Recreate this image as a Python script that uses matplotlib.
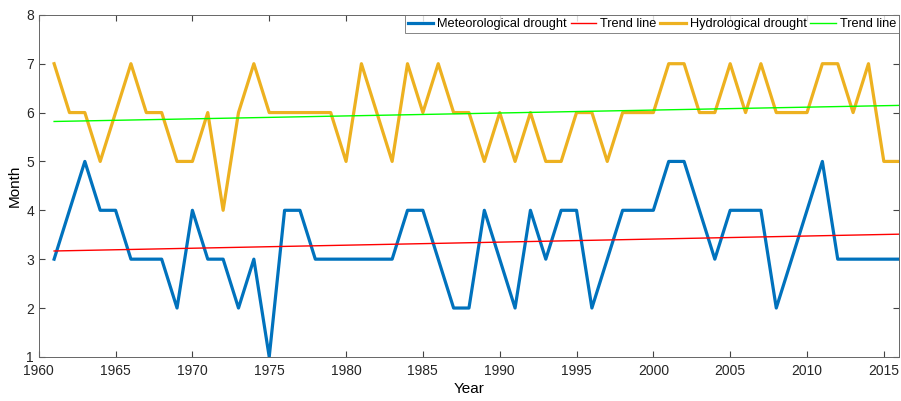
import matplotlib.pyplot as plt
import numpy as np

plt.rcParams["font.family"] = ["Liberation Sans", "DejaVu Sans"]

years = np.arange(1961, 2017)

# Meteorological drought duration (months)
meteorological = [3, 4, 5, 4, 4, 3, 3, 3, 2, 4,
                  3, 3, 2, 3, 1, 4, 4, 3, 3, 3,
                  3, 3, 3, 4, 4, 3, 2, 2, 4, 3,
                  2, 4, 3, 4, 4, 2, 3, 4, 4, 4,
                  5, 5, 4, 3, 4, 4, 4, 2, 3, 4,
                  5, 3, 3, 3, 3, 3]

# Hydrological drought duration (months)
hydrological = [7, 6, 6, 5, 6, 7, 6, 6, 5, 5,
                6, 4, 6, 7, 6, 6, 6, 6, 6, 5,
                7, 6, 5, 7, 6, 7, 6, 6, 5, 6,
                5, 6, 5, 5, 6, 6, 5, 6, 6, 6,
                7, 7, 6, 6, 7, 6, 7, 6, 6, 6,
                7, 7, 6, 7, 5, 5]

x_ticks = np.arange(1960, 2016, 5)


def trend(x, y):
    """Least-squares linear trend evaluated over x."""
    slope, intercept = np.polyfit(x, y, 1)
    return slope * x + intercept


fig = plt.figure(figsize=(9.01, 4.01), dpi=100)
ax = fig.add_axes([0.043, 0.110, 0.955, 0.853])

ax.plot(years, meteorological, color="#0072BD", lw=2.3, label="Meteorological drought")
ax.plot(years, trend(years, meteorological), color="#FF0000", lw=1.0, label="Trend line")
ax.plot(years, hydrological, color="#EDB120", lw=2.3, label="Hydrological drought")
ax.plot(years, trend(years, hydrological), color="#00FF00", lw=1.0, label="Trend line")

ax.set_xlim(1960, 2016)
ax.set_ylim(1, 8)
ax.set_xticks(x_ticks)
ax.set_yticks(np.arange(1, 9))
ax.tick_params(direction="in", top=True, right=True, labelsize=10,
               colors="#444444", labelcolor="#262626", length=4)
ax.tick_params(axis="x", pad=5)
for spine in ax.spines.values():
    spine.set_color("#666666")
    spine.set_linewidth(0.7)

ax.set_xlabel("Year", fontsize=11, labelpad=3)
ax.set_ylabel("Month", fontsize=11, labelpad=3)

leg = ax.legend(loc="upper right", ncol=4, fontsize=9.2, frameon=True,
                fancybox=False, borderpad=0.2, handlelength=2.0,
                handletextpad=0.3, columnspacing=0.3, borderaxespad=0.05,
                labelspacing=0.2)
leg.get_frame().set_edgecolor("#666666")
leg.get_frame().set_linewidth(0.7)

fig.savefig("out.png", dpi=100)
